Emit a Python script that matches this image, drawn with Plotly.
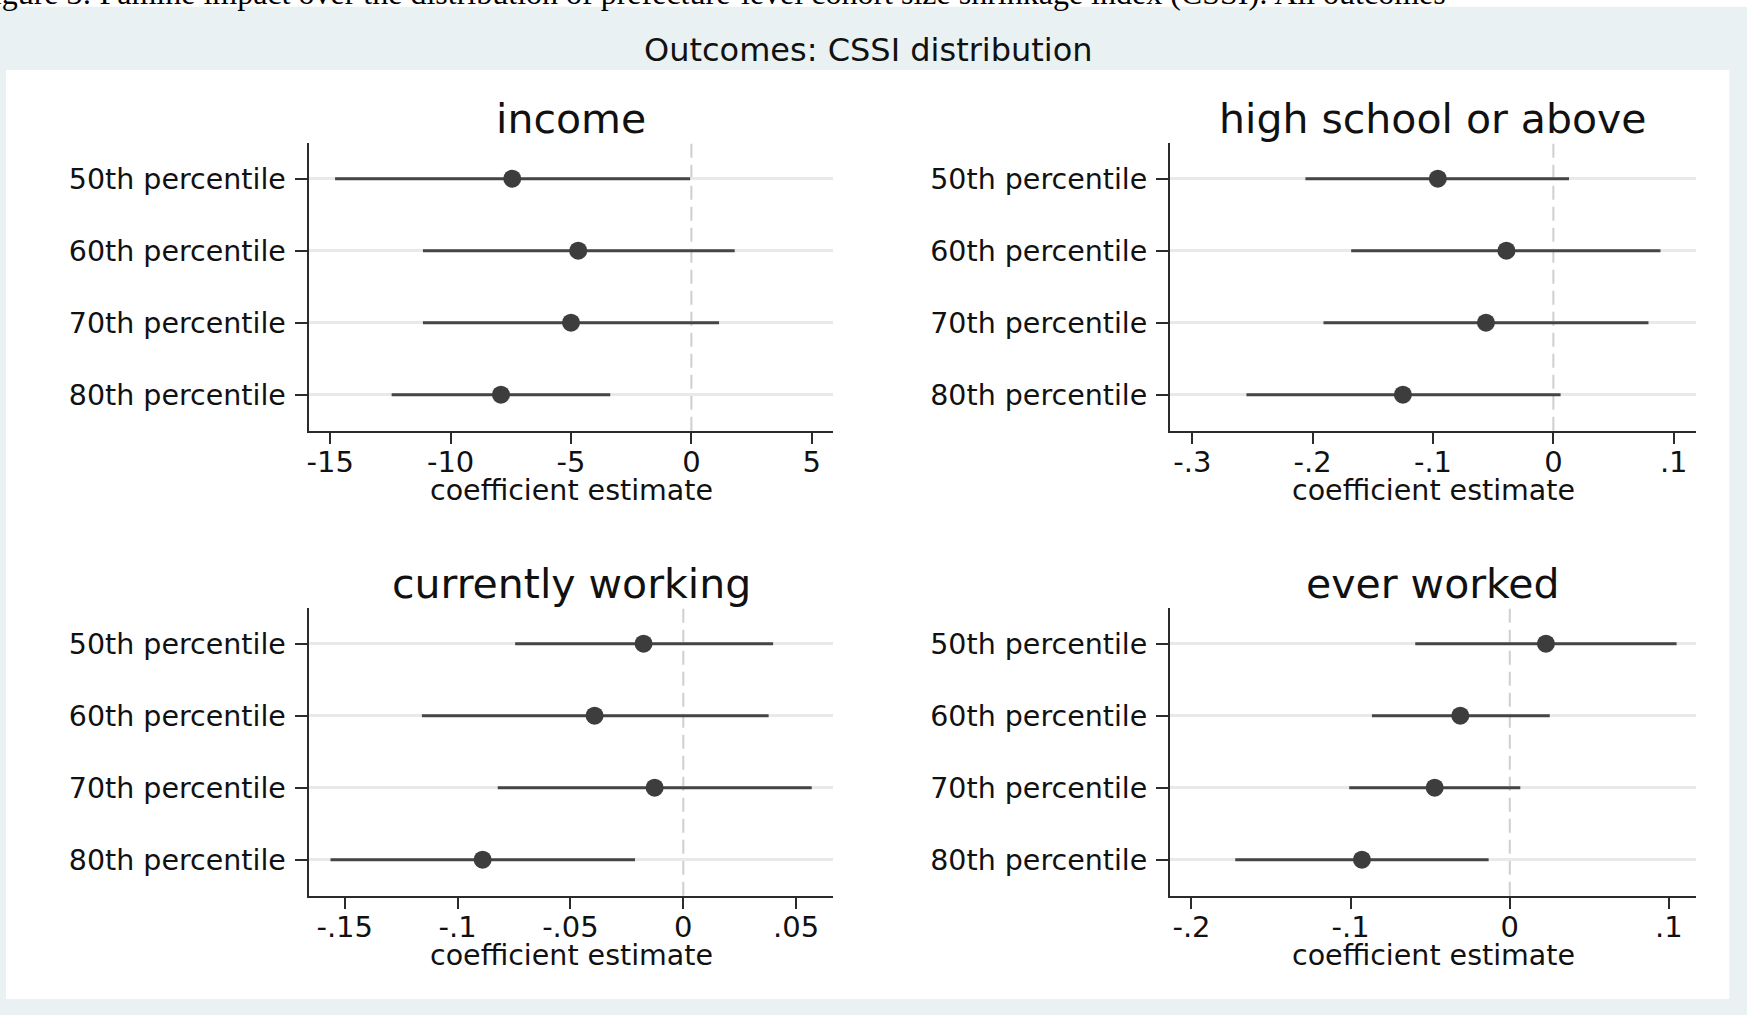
import plotly.graph_objects as go

# ---- data -------------------------------------------------------------
categories = ["50th percentile", "60th percentile", "70th percentile", "80th percentile"]

income_est = [-7.44, -4.70, -5.00, -7.91]
income_lo = [-14.80, -11.15, -11.15, -12.45]
income_hi = [-0.05, 1.80, 1.15, -3.37]

hs_est = [-0.096, -0.039, -0.056, -0.125]
hs_lo = [-0.206, -0.168, -0.191, -0.255]
hs_hi = [0.013, 0.089, 0.079, 0.006]

cw_est = [-0.0176, -0.0393, -0.0127, -0.0889]
cw_lo = [-0.0745, -0.1158, -0.0822, -0.1563]
cw_hi = [0.0398, 0.0378, 0.0569, -0.0214]

ew_est = [0.0227, -0.0311, -0.0472, -0.0929]
ew_lo = [-0.0594, -0.0866, -0.1009, -0.1725]
ew_hi = [0.1048, 0.0251, 0.0066, -0.0133]

income_ticks = [-15, -10, -5, 0, 5]
income_ticktext = ["-15", "-10", "-5", "0", "5"]
hs_ticks = [-0.3, -0.2, -0.1, 0, 0.1]
hs_ticktext = ["-.3", "-.2", "-.1", "0", ".1"]
cw_ticks = [-0.15, -0.1, -0.05, 0, 0.05]
cw_ticktext = ["-.15", "-.1", "-.05", "0", ".05"]
ew_ticks = [-0.2, -0.1, 0, 0.1]
ew_ticktext = ["-.2", "-.1", "0", ".1"]

panel_titles = ["income", "high school or above", "currently working", "ever worked"]
main_title = "Outcomes: CSSI distribution"
axis_title = "coefficient estimate"
caption = ("Figure 3: Famine impact over the distribution of prefecture-level "
           "cohort size shrinkage index (CSSI): All outcomes")

# ---- layout helpers (pixel -> paper) ----------------------------------
W, H = 1747, 1015
FONT = "DejaVu Sans"
INK = "#111111"
AXIS = "#2b2b2b"
MARK = "#3d3d3d"


def fx(p):
    return p / W


def fy(p):
    return 1 - p / H


panels = [
    dict(est=income_est, lo=income_lo, hi=income_hi, rng=[-15.9, 5.9],
         tv=income_ticks, tt=income_ticktext, x=(308.6, 833.4), y=(142.7, 430.7)),
    dict(est=hs_est, lo=hs_lo, hi=hs_hi, rng=[-0.3185, 0.1185],
         tv=hs_ticks, tt=hs_ticktext, x=(1170.0, 1696.0), y=(142.7, 430.7)),
    dict(est=cw_est, lo=cw_lo, hi=cw_hi, rng=[-0.166, 0.0665],
         tv=cw_ticks, tt=cw_ticktext, x=(308.6, 833.4), y=(607.7, 895.7)),
    dict(est=ew_est, lo=ew_lo, hi=ew_hi, rng=[-0.2135, 0.117],
         tv=ew_ticks, tt=ew_ticktext, x=(1170.0, 1696.0), y=(607.7, 895.7)),
]

fig = go.Figure()
shapes = []
annotations = []

# page furniture: white caption strip and white graph region
shapes.append(dict(type="rect", xref="paper", yref="paper", x0=0, x1=1,
                   y0=fy(6.7), y1=1.01, fillcolor="white", line_width=0, layer="below"))
shapes.append(dict(type="rect", xref="paper", yref="paper", x0=fx(6), x1=fx(1729.3),
                   y0=fy(999), y1=fy(70), fillcolor="white", line_width=0, layer="below"))

annotations.append(dict(text=caption, xref="paper", yref="paper", x=fx(1448), y=fy(-7),
                        xanchor="right", yanchor="middle", showarrow=False,
                        font=dict(family="Liberation Serif", size=32, color="#000000")))
annotations.append(dict(text=main_title, xref="paper", yref="paper", x=fx(868), y=fy(50),
                        xanchor="center", yanchor="middle", showarrow=False,
                        font=dict(family=FONT, size=32, color=INK)))

for i, p in enumerate(panels, start=1):
    xa = "x" if i == 1 else f"x{i}"
    ya = "y" if i == 1 else f"y{i}"

    # confidence intervals
    xs, ys = [], []
    for c, lo, hi in zip(categories, p["lo"], p["hi"]):
        xs += [lo, hi, None]
        ys += [c, c, None]
    fig.add_trace(go.Scatter(x=xs, y=ys, mode="lines", xaxis=xa, yaxis=ya,
                             line=dict(color="#454545", width=3), showlegend=False,
                             hoverinfo="skip"))
    # point estimates
    fig.add_trace(go.Scatter(x=p["est"], y=categories, mode="markers", xaxis=xa, yaxis=ya,
                             marker=dict(color=MARK, size=18), showlegend=False))

    # reference line at zero
    shapes.append(dict(type="line", xref=xa, yref=f"{ya} domain", x0=0, x1=0, y0=0, y1=1,
                       line=dict(color="#cfcfcf", width=2, dash="14px,7px"), layer="below"))

    x0, x1 = p["x"]
    y0, y1 = p["y"]
    fig.layout[("xaxis" if i == 1 else f"xaxis{i}")] = dict(
        domain=[fx(x0), fx(x1)], anchor=ya, range=p["rng"],
        tickmode="array", tickvals=p["tv"], ticktext=p["tt"],
        ticks="outside", ticklen=11, tickwidth=2, tickcolor=AXIS,
        ticklabelstandoff=-7,
        showline=True, linecolor=AXIS, linewidth=2,
        showgrid=False, zeroline=False,
        tickfont=dict(family=FONT, size=29, color=INK), automargin=False)
    fig.layout[("yaxis" if i == 1 else f"yaxis{i}")] = dict(
        domain=[fy(y1), fy(y0)], anchor=xa,
        type="category", categoryorder="array", categoryarray=categories,
        range=[3.5, -0.5],
        ticks="outside", ticklen=12, tickwidth=2, tickcolor=AXIS,
        ticklabelstandoff=3,
        showline=True, linecolor=AXIS, linewidth=2,
        showgrid=True, gridcolor="#e9e9e9", gridwidth=3, zeroline=False,
        tickfont=dict(family=FONT, size=28.5, color=INK), automargin=False)

    cx = fx((x0 + x1) / 2)
    annotations.append(dict(text=panel_titles[i - 1], xref="paper", yref="paper",
                            x=cx, y=fy(y0 - 24), xanchor="center", yanchor="middle",
                            showarrow=False, font=dict(family=FONT, size=41, color=INK)))
    annotations.append(dict(text=axis_title, xref="paper", yref="paper",
                            x=cx, y=fy(y1 + 60), xanchor="center", yanchor="middle",
                            showarrow=False, font=dict(family=FONT, size=28.5, color=INK)))

fig.update_layout(
    width=W, height=H,
    margin=dict(l=0, r=0, t=0, b=0),
    paper_bgcolor="#e9f1f3",
    plot_bgcolor="white",
    shapes=shapes,
    annotations=annotations,
    showlegend=False,
)

fig.write_html("out.html")
